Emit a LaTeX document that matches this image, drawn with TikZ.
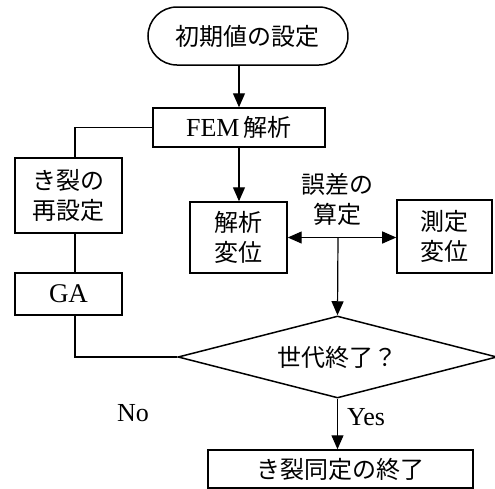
\documentclass[tikz,border=0pt]{standalone}
\usepackage{fontspec}
\setmainfont{Liberation Serif}
\newfontfamily\jp{Noto Sans CJK JP}
\usetikzlibrary{shapes.geometric,arrows.meta}
\begin{document}
\begin{tikzpicture}[x=0.5pt,y=-0.5pt,
  every node/.style={font=\fontsize{12pt}{14pt}\selectfont},
  box/.style={draw,line width=0.75pt,inner sep=0pt,align=center},
  two/.style={font=\fontsize{12pt}{15pt}\selectfont},
  conn/.style={line width=0.6pt},
  arr/.style={conn,-{Triangle[length=7pt,width=6pt]}},
  darr/.style={conn,{Triangle[length=7pt,width=6pt]}-{Triangle[length=7pt,width=6pt]}},
  lab/.style={inner sep=0pt,align=center}]
\useasboundingbox (0,0) rectangle (495,489);
\node[box,minimum width=100pt,minimum height=29pt,rounded corners=14.5pt] (start) at (248,36) {\jp 初期値の設定};
\node[box,minimum width=86pt,minimum height=19.5pt] (fem) at (239,127.5) {\fontsize{13pt}{14pt}\selectfont FEM\,{\jp\fontsize{12pt}{14pt}\selectfont 解析}};
\node[box,two,minimum width=53.5pt,minimum height=37.5pt] (crack) at (68.5,195.5) {\jp き裂の\\\jp 再設定};
\node[box,minimum width=53.5pt,minimum height=21pt,font=\fontsize{13.5pt}{15pt}\selectfont] (ga) at (68.5,294) {GA};
\node[box,two,minimum width=48.5pt,minimum height=35.5pt] (kai) at (238.5,237.5) {\jp 解析\\\jp 変位};
\node[box,two,minimum width=47.5pt,minimum height=36.5pt] (sok) at (444.5,236.5) {\jp 測定\\\jp 変位};
\node[box,diamond,shape aspect=3.9,minimum width=159.5pt,minimum height=41pt] (dia) at (337.5,357) {\jp 世代終了？};
\node[box,minimum width=132.5pt,minimum height=19pt] (end) at (340.5,469) {\jp き裂同定の終了};
\node[lab,two] (err) at (338,199) {\jp 誤差の\\\jp 算定};
\node[lab,font=\fontsize{13pt}{14pt}\selectfont] (no) at (133,413) {No};
\node[lab,font=\fontsize{13pt}{14pt}\selectfont] (yes) at (366,417) {Yes};
\coordinate (mid) at (338,238);
\draw[arr] (fem.north |- start.south) -- (fem.north);
\draw[conn] (fem.west) -| ([xshift=3.25pt]crack.north);
\draw[conn] ([xshift=3.25pt]crack.south) -- ([xshift=3.25pt]ga.north);
\draw[conn] ([xshift=3.25pt]ga.south) |- (dia.west);
\draw[arr] (fem.south) -- (fem.south |- kai.north);
\draw[darr] (kai.east) -- (kai.east -| sok.west);
\draw[arr] (mid) -- (dia.north);
\draw[arr] (dia.south) -- (dia.south |- end.north);
\end{tikzpicture}
\end{document}
